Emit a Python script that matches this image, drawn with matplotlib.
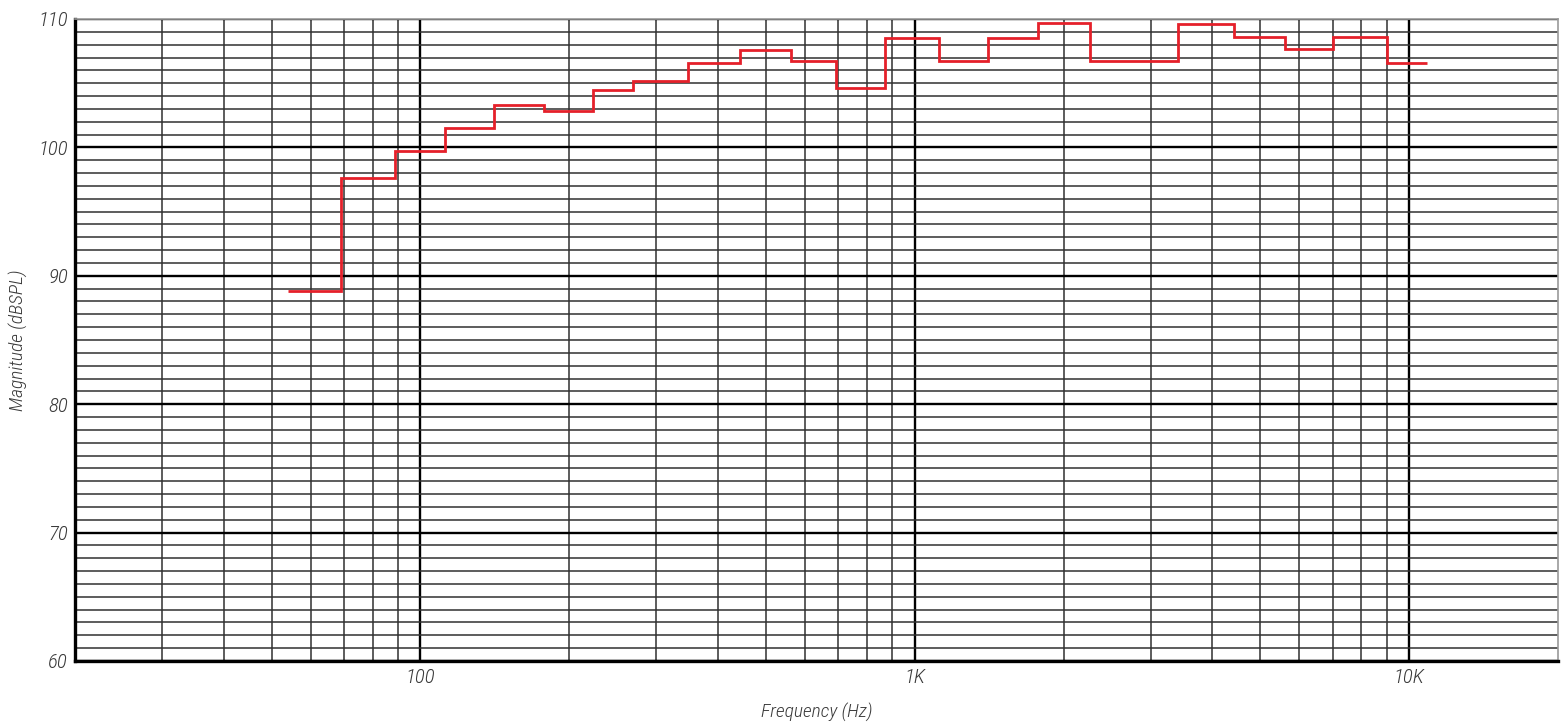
import matplotlib.pyplot as plt
import numpy as np
from matplotlib.ticker import FixedLocator, NullFormatter

# === Data (1/3-octave band levels) ===

band_edges = [54, 69, 89, 112, 141, 178, 223, 269, 347, 442, 562, 692,
              871, 1119, 1407, 1775, 2258, 2818, 3405, 4429, 5603, 7016,
              9032, 10870]
band_levels = [88.8, 97.6, 99.7, 101.5, 103.3, 102.8, 104.5, 105.2, 106.6,
               107.6, 106.7, 104.6, 108.5, 106.7, 108.5, 109.7, 106.7, 106.7,
               109.6, 108.6, 107.7, 108.6, 106.6]

x_major = [100, 1000, 10000]
x_major_labels = ["100", "1K", "10K"]
x_minor = [30, 40, 50, 60, 70, 80, 90,
           200, 300, 400, 500, 600, 700, 800, 900,
           2000, 3000, 4000, 5000, 6000, 7000, 8000, 9000]
y_major = [60, 70, 80, 90, 100, 110]

plt.rcParams['font.family'] = ['Roboto Condensed', 'Liberation Sans Narrow', 'DejaVu Sans']

fig = plt.figure(figsize=(15.68, 7.25), dpi=100)
ax = fig.add_axes([0.0478, 0.0883, 0.9458, 0.8855])

ax.set_xscale('log')
ax.set_xlim(20, 20000)
ax.set_ylim(60, 110)

# grid
ax.xaxis.set_major_locator(FixedLocator(x_major))
ax.xaxis.set_minor_locator(FixedLocator(x_minor))
ax.xaxis.set_minor_formatter(NullFormatter())
ax.set_xticklabels(x_major_labels)
ax.yaxis.set_major_locator(FixedLocator(y_major))
ax.yaxis.set_minor_locator(FixedLocator(np.arange(60, 111, 1)))

ax.grid(which='major', color='black', linewidth=1.7)
ax.grid(which='minor', color='#303030', linewidth=1.1)
ax.set_axisbelow(True)

ax.tick_params(which='both', length=0)
ax.tick_params(axis='y', pad=5, labelsize=15, labelcolor='#3a3a3a')
ax.tick_params(axis='x', pad=5, labelsize=15, labelcolor='#3a3a3a')
for lbl in ax.get_xticklabels() + ax.get_yticklabels():
    lbl.set_style('italic')
    lbl.set_fontweight('light')

for side in ['left', 'bottom']:
    ax.spines[side].set_color('black')
    ax.spines[side].set_linewidth(2.4)
for side in ['top', 'right']:
    ax.spines[side].set_color('#999999')
    ax.spines[side].set_linewidth(1.2)

# response curve
ax.stairs(band_levels, band_edges, baseline=None, color='#e5202a',
          linewidth=2.0, zorder=3)

ax.set_xlabel("Frequency (Hz)", fontsize=14, style='italic', color='#3a3a3a',
              fontweight='light')
ax.set_ylabel("Magnitude (dBSPL)", fontsize=14, style='italic', color='#3a3a3a',
              fontweight='light')
ax.xaxis.set_label_coords(0.5, -0.066)
ax.yaxis.set_label_coords(-0.0317, 0.5)

fig.savefig("out.png", dpi=100)
